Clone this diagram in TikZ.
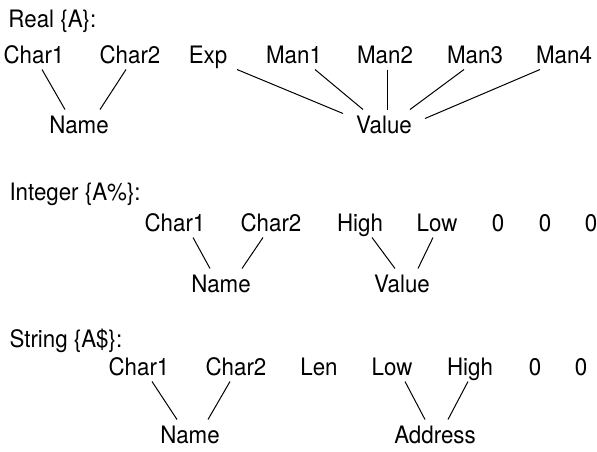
\documentclass[tikz,border=0pt]{standalone}
\usepackage{fontspec}
\setmainfont{TeX Gyre Heros}[FakeStretch=0.93]
\usepackage{tikz}
\usetikzlibrary{positioning}

\begin{document}
\begin{tikzpicture}[x=1pt, y=-1pt,
    every node/.style={font=\fontsize{24}{28}\selectfont, anchor=base,
      inner xsep=0pt, inner ysep=6pt, text height=17pt, text depth=0pt},
    title/.style={anchor=base west},
    every path/.style={line width=1pt}]
  \useasboundingbox (0,0) rectangle (597,451);

  % real
  \node (real) [title] at (8,27) {Real \{A\}:};
  \node (real-char1) at (34,63) {Char1};
  \node (real-char2) at (130,63) {Char2};
  \node (real-exp) at (208,63) {Exp};
  \node (real-man1) at (294,63) {Man1};
  \node (real-man2) at (385,63) {Man2};
  \node (real-man3) at (475,63) {Man3};
  \node (real-man4) at (564,63) {Man4};
  \node (real-name) at (79,133) {Name};
  \node (real-value) at (384,133) {Value};
  \draw ([xshift=8pt]real-char1.south) -- ([xshift=-14pt]real-name.north);
  \draw ([xshift=-4pt]real-char2.south) -- ([xshift=21pt]real-name.north);
  \draw ([xshift=29pt]real-exp.south) -- ([xshift=-41pt,yshift=-4pt]real-value.north);
  \draw ([xshift=21pt]real-man1.south) -- ([xshift=-21pt]real-value.north);
  \draw ([xshift=2pt]real-man2.south) -- ([xshift=3pt]real-value.north);
  \draw ([xshift=-11pt]real-man3.south) -- ([xshift=26pt]real-value.north);
  \draw ([xshift=-24pt]real-man4.south) -- ([xshift=41pt,yshift=-9pt]real-value.north);

  % integer
  \node (int) [title] at (9,200) {Integer \{A\%\}:};
  \node (int-char1) at (175,231) {Char1};
  \node (int-char2) at (271,231) {Char2};
  \node (int-high) at (360,231) {High};
  \node (int-low) at (437,231) {Low};
  \node (int-zero1) at (498,231) {0};
  \node (int-zero2) at (545,231) {0};
  \node (int-zero3) at (591,231) {0};
  \node (int-name) at (221,292) {Name};
  \node (int-value) at (402,292) {Value};
  \draw ([xshift=18pt]int-char1.south) -- ([xshift=-11pt]int-name.north);
  \draw ([xshift=-8pt]int-char2.south) -- ([xshift=21pt]int-name.north);
  \draw ([xshift=12pt]int-high.south) -- ([xshift=-7pt]int-value.north);
  \draw ([xshift=-4pt]int-low.south) -- ([xshift=16pt]int-value.north);

  % string
  \node (str) [title] at (9,347) {String \{A\$\}:};
  \node (str-char1) at (139,375) {Char1};
  \node (str-char2) at (236,375) {Char2};
  \node (str-len) at (319,375) {Len};
  \node (str-low) at (392,375) {Low};
  \node (str-high) at (470,375) {High};
  \node (str-zero1) at (535,375) {0};
  \node (str-zero2) at (581,375) {0};
  \node (str-name) at (190,443) {Name};
  \node (str-address) at (435,443) {Address};
  \draw ([xshift=13pt]str-char1.south) -- ([xshift=-13pt]str-name.north);
  \draw ([xshift=-6pt]str-char2.south) -- ([xshift=18pt]str-name.north);
  \draw ([xshift=13pt]str-low.south) -- ([xshift=-10pt]str-address.north);
  \draw ([xshift=-2pt]str-high.south) -- ([xshift=13pt]str-address.north);
\end{tikzpicture}
\end{document}
